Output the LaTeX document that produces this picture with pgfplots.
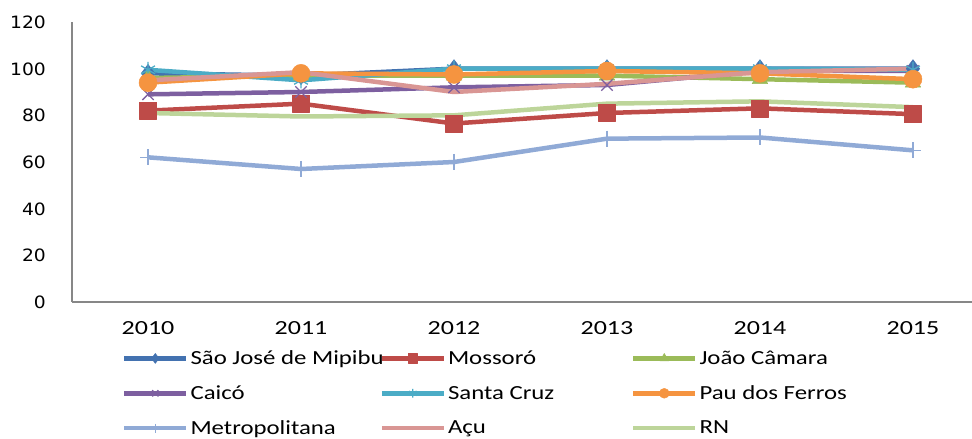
\documentclass[border=0pt]{standalone}
\usepackage{fontspec}
\setmainfont{Carlito}[FakeStretch=1.3]
\newfontfamily\legfont{Carlito}[FakeStretch=1.24]
\newfontfamily\yfont{DejaVu Sans}[FakeStretch=1.1]
\usepackage{pgfplots}
\pgfplotsset{compat=1.18}
\definecolor{cSJ}{HTML}{4372B0}
\definecolor{cMo}{HTML}{BE4B48}
\definecolor{cJC}{HTML}{9BBB59}
\definecolor{cCa}{HTML}{7D5FA0}
\definecolor{cSC}{HTML}{4BACC6}
\definecolor{cPF}{HTML}{F59440}
\definecolor{cMe}{HTML}{90AAD6}
\definecolor{cAc}{HTML}{D99694}
\definecolor{cRN}{HTML}{BDD59A}
\begin{document}
\begin{tikzpicture}
\path[use as bounding box] (0,0) rectangle (972pt,439pt);
\begin{axis}[
  at={(72pt,137pt)}, anchor=south west, scale only axis,
  width=900pt, height=280pt,
  xmin=-0.497, xmax=5.386, ymin=0, ymax=120,
  axis lines*=left,
  axis line style={draw=black!47, line width=1.3pt},
  xtick={0,1,2,3,4,5},
  xticklabels={2010,2011,2012,2013,2014,2015},
  ytick={0,20,40,60,80,100,120},
  major tick length=0pt,
  xticklabel style={font=\fontsize{20}{22}\selectfont, anchor=base, yshift=-33pt, inner sep=0pt},
  yticklabel style={font=\yfont\fontsize{17}{19}\selectfont, anchor=base east, xshift=-26pt, yshift=-6.5pt, inner sep=0pt},
  /pgf/number format/assume math mode=true,
  every axis plot/.append style={line width=4.5pt, line join=round},
  legend columns=3,
  legend cell align=left,
  legend style={at={(axis description cs:0.0556,-0.174)}, anchor=north west,
    draw=none, fill=none, inner sep=0pt, outer sep=0pt, row sep=19.5pt,
    nodes={inner sep=0pt, font=\legfont\fontsize{20}{22}\selectfont},
    /tikz/every odd column/.append style={column sep=2pt}},
  legend image code/.code={\draw[mark repeat=2,mark phase=2,#1,every mark/.append style={scale=0.55}] plot coordinates {(0pt,0pt) (31pt,0pt) (62pt,0pt)};},
]
\addplot[color=cSJ, mark=diamond*, mark size=9pt, mark options={line width=0.5pt}] coordinates {(0,98) (1,97) (2,100) (3,100) (4,100) (5,100)};
\addlegendentry{\makebox[189pt][l]{São José de Mipibu}}
\addplot[color=cMo, mark=square*, mark size=8.5pt, mark options={line width=0.5pt}] coordinates {(0,82) (1,85) (2,76.5) (3,81) (4,83) (5,80.5)};
\addlegendentry{\makebox[183pt][l]{Mossoró}}
\addplot[color=cJC, mark=triangle*, mark size=9pt, mark options={line width=0.5pt}] coordinates {(0,96) (1,97) (2,97) (3,97) (4,95.5) (5,94)};
\addlegendentry{\makebox[150pt][l]{João Câmara}}
\addplot[color=cCa, mark=x, mark size=8pt, mark options={line width=1.3pt}] coordinates {(0,89) (1,90) (2,92) (3,93) (4,99) (5,99)};
\addlegendentry{\makebox[189pt][l]{Caicó}}
\addplot[color=cSC, mark=asterisk, mark size=8pt, mark options={line width=1.3pt}] coordinates {(0,99.5) (1,95) (2,100) (3,100) (4,100) (5,99.5)};
\addlegendentry{\makebox[183pt][l]{Santa Cruz}}
\addplot[color=cPF, mark=*, mark size=9pt, mark options={line width=0.5pt}] coordinates {(0,94) (1,98) (2,97.5) (3,99) (4,98) (5,95.5)};
\addlegendentry{\makebox[150pt][l]{Pau dos Ferros}}
\addplot[color=cMe, mark=+, mark size=8pt, mark options={line width=1.3pt}] coordinates {(0,62) (1,57) (2,60) (3,70) (4,70.5) (5,65)};
\addlegendentry{\makebox[189pt][l]{Metropolitana}}
\addplot[color=cAc] coordinates {(0,95) (1,98.5) (2,90) (3,93.5) (4,98.5) (5,100)};
\addlegendentry{\makebox[183pt][l]{Açu}}
\addplot[color=cRN] coordinates {(0,81) (1,79.5) (2,80) (3,85) (4,86) (5,83.5)};
\addlegendentry{\makebox[150pt][l]{RN}}
\end{axis}
\end{tikzpicture}
\end{document}
